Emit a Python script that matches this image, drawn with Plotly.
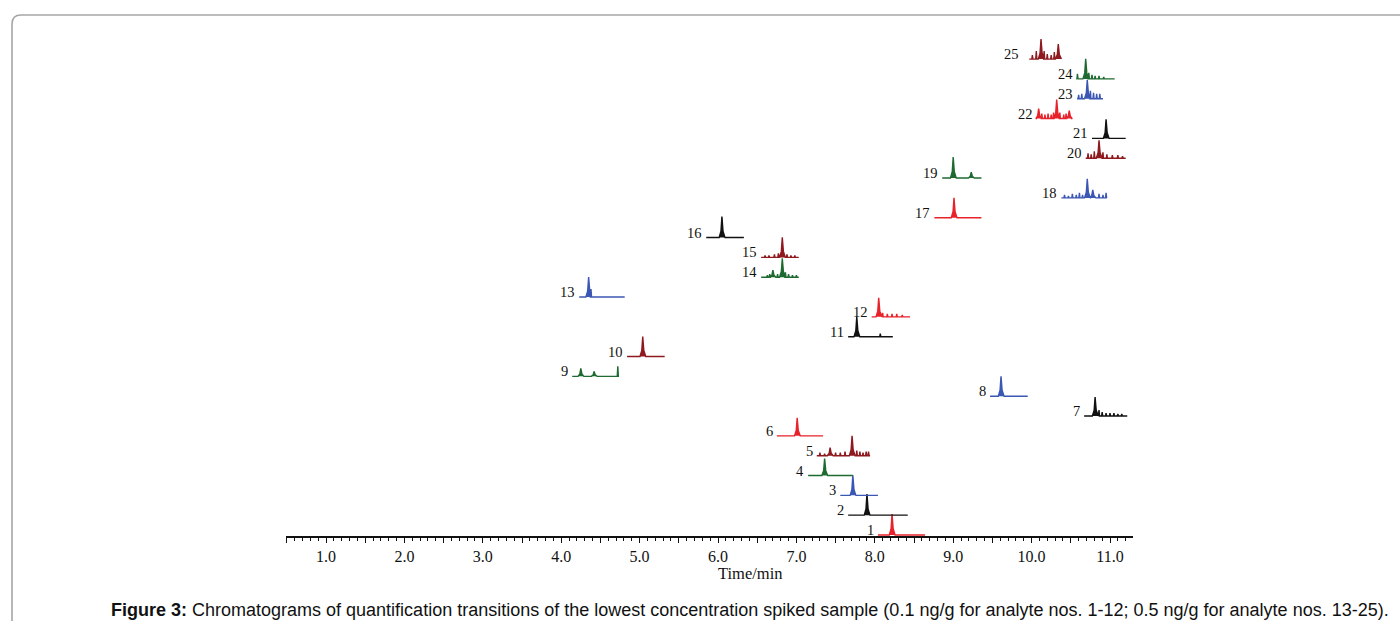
import plotly.graph_objects as go

# ---------------- data ----------------
analyte_ids = [str(i) for i in range(1, 26)]
color_keys = ["red", "black", "blue", "green", "darkred",
              "red", "black", "blue", "green", "darkred",
              "black", "red", "blue", "green", "darkred",
              "black", "red", "blue", "green", "darkred",
              "black", "red", "blue", "green", "darkred"]

# retention-time window of each trace (min)
start_t = [8.04, 7.66, 7.56, 7.15, 7.26, 6.75, 10.67, 9.47, 4.14, 4.84,
           7.66, 7.96, 4.23, 6.55, 6.55, 5.85, 8.76, 10.38, 8.86, 10.69,
           10.77, 10.07, 10.58, 10.58, 9.97]
end_t = [8.64, 8.42, 8.04, 7.72, 7.94, 7.34, 11.22, 9.95, 4.72, 5.32,
         8.23, 8.45, 4.81, 7.03, 7.03, 6.33, 9.36, 10.96, 9.36, 11.20,
         11.20, 10.50, 10.91, 11.06, 10.38]

# main peaks: (retention time, relative height)
peaks = [
    [(8.22, 21)],
    [(7.90, 21)],
    [(7.72, 20)],
    [(7.36, 17)],
    [(7.43, 8), (7.71, 20)],
    [(7.01, 18)],
    [(10.81, 19)],
    [(9.61, 20)],
    [(4.25, 8), (4.42, 5)],
    [(5.04, 20)],
    [(7.77, 20)],
    [(8.05, 19)],
    [(4.35, 20)],
    [(6.70, 7), (6.82, 19)],
    [(6.82, 20)],
    [(6.05, 21)],
    [(9.01, 20)],
    [(10.71, 19), (10.78, 8)],
    [(9.00, 21), (9.23, 6)],
    [(10.86, 18)],
    [(10.95, 19)],
    [(10.09, 10), (10.32, 19), (10.48, 8)],
    [(10.71, 19)],
    [(10.69, 20)],
    [(10.12, 20), (10.34, 15)],
]

# small noise spikes: (time, height)
noise = [
    [],
    [],
    [],
    [],
    [(7.30, 3), (7.36, 2), (7.50, 3), (7.56, 3), (7.62, 4), (7.77, 5), (7.81, 4), (7.85, 3), (7.89, 4), (7.92, 4)],
    [],
    [(10.86, 6), (10.90, 4), (10.95, 3), (11.00, 3), (11.05, 3), (11.10, 2), (11.15, 2)],
    [],
    [(4.722, 10)],
    [],
    [(8.07, 3)],
    [(8.10, 4), (8.16, 3), (8.22, 3), (8.28, 3), (8.35, 2)],
    [(4.38, 8)],
    [(6.63, 2), (6.66, 3), (6.76, 3), (6.86, 5), (6.90, 3), (6.95, 2), (7.00, 2)],
    [(6.60, 2), (6.65, 2), (6.72, 3), (6.77, 4), (6.88, 3), (6.93, 2), (6.98, 2)],
    [],
    [],
    [(10.42, 3), (10.47, 2), (10.52, 4), (10.57, 3), (10.61, 5), (10.65, 3), (10.86, 4), (10.91, 3), (10.95, 5)],
    [],
    [(10.72, 5), (10.76, 4), (10.80, 7), (10.91, 6), (10.96, 4), (11.03, 3), (11.10, 3), (11.16, 2)],
    [],
    [(10.13, 5), (10.17, 4), (10.21, 5), (10.25, 4), (10.28, 6), (10.36, 6), (10.41, 4), (10.44, 5)],
    [(10.60, 4), (10.64, 5), (10.75, 8), (10.79, 6), (10.83, 5), (10.87, 5)],
    [(10.585, 5), (10.73, 6), (10.77, 4), (10.81, 3), (10.86, 3), (10.92, 2)],
    [(10.01, 4), (10.06, 8), (10.16, 8), (10.20, 5), (10.25, 4), (10.29, 7)],
]

tick_vals = [0.5 * k for k in range(1, 23)]
tick_text = [f"{v:.1f}" if v == int(v) else "" for v in tick_vals]

# ---------------- styles / layout constants ----------------
palette = {"red": "#e8222b", "black": "#111111", "blue": "#3b57b3",
           "green": "#1f6a31", "darkred": "#8e1a1f"}
step = 19.83          # vertical stacking step (px units)
base0 = 1.0
label_shift = [-2] * 25
label_shift[24] = -8

L, R, T, B = 286, 1133, 30, 536   # plot area in pixels
W, H = 1400, 621
x0, x1 = 1 + (L - 326) / 78.4, 1 + (R - 326) / 78.4


def px2paper(px, py):
    return (px - L) / (R - L), (B - py) / (B - T)


fig = go.Figure()

for i, aid in enumerate(analyte_ids):
    off = base0 + i * step
    col = palette[color_keys[i]]
    spikes = [(t, h, 0.035, True) for t, h in peaks[i]] + [(t, h, 0.007, False) for t, h in noise[i]]
    spikes.sort(key=lambda s: s[0])
    xs, ys = [start_t[i]], [0]
    for t, h, w, main in spikes:
        if main:
            xs += [t - w, t - w * 0.35, t, t + w * 0.4, t + w * 1.1]
            ys += [0, h * 0.3, h, h * 0.3, 0]
        else:
            xs += [t - w, t, t + w]
            ys += [0, h, 0]
    xs.append(end_t[i])
    ys.append(0)
    fig.add_trace(go.Scatter(
        x=xs, y=[v + off for v in ys], mode="lines",
        line=dict(color=col, width=1.4), fill="toself", fillcolor=col,
        hoverinfo="skip", showlegend=False))
    fig.add_annotation(x=start_t[i], y=off + 5, xref="x", yref="y",
                       text=aid, showarrow=False, xanchor="right", yanchor="middle",
                       xshift=label_shift[i],
                       font=dict(family="Liberation Serif", size=14.5, color="#111"))

# axis title
tx, ty = px2paper(750, 573)
fig.add_annotation(x=tx, y=ty, xref="paper", yref="paper", text="Time/min",
                   showarrow=False, xanchor="center", yanchor="middle",
                   font=dict(family="Liberation Serif", size=16.5, color="#111"))
# caption
cx, cy = px2paper(750, 610)
fig.add_annotation(x=cx, y=cy, xref="paper", yref="paper",
                   text="<b>Figure 3:</b> Chromatograms of quantification transitions of the lowest "
                        "concentration spiked sample (0.1 ng/g for analyte nos. 1-12; 0.5 ng/g for "
                        "analyte nos. 13-25).",
                   showarrow=False, xanchor="center", yanchor="middle",
                   font=dict(family="Liberation Sans", size=18, color="#111"))

# rounded frame
pts = [px2paper(1420, 15), px2paper(21, 15), px2paper(12, 15), px2paper(12, 24), px2paper(12, 640)]
path = (f"M {pts[0][0]},{pts[0][1]} L {pts[1][0]},{pts[1][1]} "
        f"Q {pts[2][0]},{pts[2][1]} {pts[3][0]},{pts[3][1]} L {pts[4][0]},{pts[4][1]}")
fig.add_shape(type="path", path=path, xref="paper", yref="paper",
              line=dict(color="#a6a6a6", width=1.6))

fig.update_layout(
    width=W, height=H,
    margin=dict(l=L, r=W - R, t=T, b=H - B),
    paper_bgcolor="white", plot_bgcolor="white",
    showlegend=False,
    xaxis=dict(range=[x0, x1], showgrid=False, zeroline=False,
               showline=True, linecolor="#111", linewidth=1.6,
               ticks="outside", ticklen=5, tickwidth=1, tickcolor="#111",
               tickvals=tick_vals, ticktext=tick_text,
               tickfont=dict(family="Liberation Serif", size=16, color="#111"),
               minor=dict(dtick=0.1, tick0=0, ticks="outside", ticklen=3,
                          tickwidth=1, tickcolor="#111")),
    yaxis=dict(range=[0, B - T], visible=False, fixedrange=True),
)

fig.write_html("out.html")
